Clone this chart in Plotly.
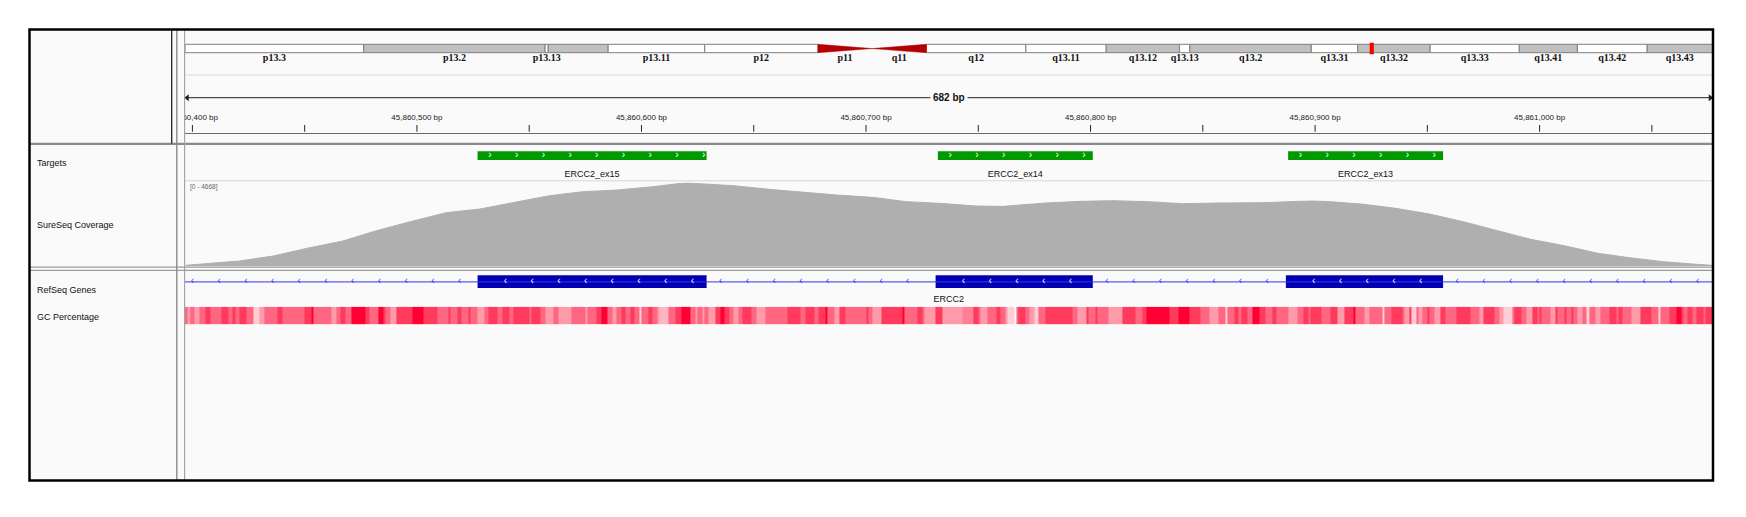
import numpy as np
import plotly.graph_objects as go

# page size and the default body margin of the html page
PAGE_W, PAGE_H, BODY = 1746, 517, 8
W, H = PAGE_W - 2 * BODY, PAGE_H - 2 * BODY

# view on chr19 (offsets are bp after 45,860,000)
BASE = 45860000
view_start, view_end = 396.7, 1077.0

# ideogram: chr19 cytobands (Mb)
band_names = ["p13.3", "p13.2", "p13.13", "p13.12", "p13.11", "p12", "p11", "q11", "q12",
              "q13.11", "q13.12", "q13.13", "q13.2", "q13.31", "q13.32", "q13.33",
              "q13.41", "q13.42", "q13.43"]
band_start = [0, 6.92, 13.94, 14.06, 16.38, 20.12, 24.5, 26.6, 28.7,
              32.55, 35.66, 38.5, 38.9, 43.6, 45.4, 48.2, 51.65, 53.9, 56.6]
band_end = [6.92, 13.94, 14.06, 16.38, 20.12, 24.5, 26.6, 28.7, 32.55,
            35.66, 38.5, 38.9, 43.6, 45.4, 48.2, 51.65, 53.9, 56.6, 59.13]
band_stain = ["gneg", "gpos", "gneg", "gpos", "gneg", "gneg", "acen", "acen", "gneg",
              "gneg", "gpos", "gneg", "gpos", "gneg", "gpos", "gneg", "gpos", "gneg", "gpos"]
band_shown = [True, True, True, False, True, True, True, True, True,
              True, True, True, True, True, True, True, True, True, True]
chrom_len = 59.13
locus_mb = 45.86

# ruler
tick_pos = [400, 450, 500, 550, 600, 650, 700, 750, 800, 850, 900, 950, 1000, 1050]
label_pos = [400, 500, 600, 700, 800, 900, 1000]
label_text = ["45,860,400 bp", "45,860,500 bp", "45,860,600 bp", "45,860,700 bp",
              "45,860,800 bp", "45,860,900 bp", "45,861,000 bp"]
span_text = "682 bp"

# targets
target_names = ["ERCC2_ex15", "ERCC2_ex14", "ERCC2_ex13"]
target_start = [527, 732, 888]
target_end = [629, 801, 957]

# coverage
cov_pos = [397, 405, 421, 436, 451, 467, 482, 497, 513, 528, 543, 559, 574, 589, 605, 620,
           626, 641, 657, 672, 687, 703, 718, 733, 749, 761, 780, 795, 810, 826, 841, 856,
           877, 892, 899, 907, 922, 936, 951, 966, 981, 996, 1011, 1026, 1040, 1055, 1070, 1077]
cov_depth = [37, 112, 280, 560, 990, 1400, 1980, 2483, 2988, 3193, 3548, 3940, 4164, 4257, 4444, 4668,
             4612, 4500, 4295, 4127, 3977, 3846, 3603, 3510, 3361, 3342, 3529, 3622, 3659, 3603, 3491, 3529,
             3548, 3622, 3641, 3603, 3454, 3230, 2913, 2483, 1979, 1494, 1139, 710, 467, 243, 93, 37]
cov_max = 4668

# RefSeq gene
gene_name = "ERCC2"
gene_start, gene_end = -5351, 13795
exon_start = [527, 731, 887]
exon_end = [629, 801, 957]

# GC percentage windows
gc_start = [396, 398, 399, 401, 403, 406, 408, 413, 416, 418, 419, 421, 424, 427, 430, 432, 438, 440,
            450, 453, 454, 462, 464, 466, 468, 471, 477, 479, 483, 485, 486, 488, 491, 498, 503, 509,
            514, 515, 518, 520, 523, 524, 527, 530, 532, 536, 538, 541, 543, 550, 551, 555, 557, 561,
            563, 569, 575, 576, 580, 582, 585, 587, 589, 591, 593, 595, 597, 599, 600, 603, 605, 607,
            608, 612, 615, 618, 622, 624, 625, 627, 628, 630, 633, 635, 637, 639, 641, 643, 645, 649,
            651, 655, 665, 671, 673, 677, 679, 682, 683, 686, 688, 691, 700, 701, 703, 707, 716, 717,
            723, 725, 726, 731, 734, 743, 748, 750, 751, 754, 758, 760, 762, 763, 766, 767, 768, 771,
            773, 775, 777, 780, 792, 794, 798, 799, 802, 803, 808, 814, 820, 823, 825, 835, 839, 844,
            849, 853, 857, 860, 861, 864, 866, 867, 870, 872, 875, 878, 881, 883, 888, 892, 895, 897,
            898, 903, 907, 910, 913, 917, 918, 922, 924, 930, 931, 934, 939, 940, 942, 943, 945, 946,
            948, 950, 951, 953, 956, 958, 963, 969, 973, 975, 980, 982, 984, 988, 989, 992, 994, 997,
            999, 1000, 1001, 1005, 1007, 1008, 1011, 1012, 1014, 1015, 1017, 1019, 1021, 1022, 1025, 1027,
            1031, 1034, 1035, 1037, 1041, 1045, 1050, 1053, 1054, 1058, 1061, 1063, 1064, 1066, 1068, 1070,
            1073, 1074]
gc_end = 1078
gc_pct = [55, 45, 55, 45, 55, 65, 55, 65, 55, 65, 55, 65, 55, 35, 45, 55, 65, 55,
          65, 75, 55, 45, 55, 65, 55, 75, 65, 55, 75, 65, 55, 45, 65, 75, 65, 55,
          65, 55, 65, 55, 65, 55, 45, 55, 65, 55, 65, 55, 65, 55, 65, 55, 45, 55,
          45, 55, 45, 55, 65, 75, 55, 45, 55, 65, 55, 65, 55, 35, 55, 65, 55, 45,
          40, 55, 65, 75, 55, 45, 55, 45, 55, 45, 65, 75, 65, 55, 45, 55, 65, 55,
          45, 55, 65, 55, 65, 55, 65, 75, 55, 45, 65, 55, 65, 55, 45, 65, 75, 55,
          65, 55, 45, 65, 45, 50, 65, 55, 45, 55, 65, 55, 45, 35, None, 55, 65, 55,
          45, 35, 55, 65, 55, 45, 65, 55, 65, 55, 45, 65, 55, 65, 75, 65, 75, 65,
          55, 45, 55, 35, 55, 65, 55, 65, 55, 75, 65, 55, 65, 55, 45, 55, 65, 55,
          65, 55, 65, 45, 65, 75, 55, 45, 55, 35, 55, 65, 55, 45, 65, 35, 55, 45,
          55, 65, 55, 45, 65, 55, 65, 55, 45, 65, 55, 45, 35, 55, 65, 55, 45, 65,
          55, 65, 55, 45, 65, 55, 65, 55, 65, 55, 45, 55, 35, 55, 45, 55,
          65, 55, 65, 55, 45, 65, 55, 35, 55, 65, 75, 65, 55, 65, 55, 65,
          55, 65]

track_names = ["Targets", "SureSeq Coverage", "RefSeq Genes", "GC Percentage"]
track_name_y = [163.3, 225, 290, 316.7]


def px(x):
    # page pixel -> paper fraction
    return (x - BODY) / W


def py(y):
    return 1 - (y - BODY) / H


FONT = "Liberation Sans, Arial, sans-serif"
x_dom = [px(185), px(1712.5)]


def g(v):
    return [BASE + a for a in v]


fig = go.Figure()

# ideogram bands
norm = [i for i, s in enumerate(band_stain) if s != "acen"]
fig.add_trace(go.Bar(
    orientation="h", xaxis="x2", yaxis="y",
    base=[band_start[i] for i in norm],
    x=[band_end[i] - band_start[i] for i in norm],
    y=[48.5] * len(norm), width=8.4,
    marker=dict(color=["#c0c0c0" if band_stain[i] == "gpos" else "#ffffff" for i in norm],
                line=dict(color="#7f7f7f", width=1)),
    hoverinfo="skip", showlegend=False))
for i, s in enumerate(band_stain):
    if s != "acen":
        continue
    a, b = band_start[i], band_end[i]
    if band_names[i].startswith("p"):
        xs, ys = [a, a, b, a], [44.3, 52.7, 48.6, 44.3]
    else:
        xs, ys = [a, b, b, a], [48.6, 44.3, 52.7, 48.6]
    fig.add_trace(go.Scatter(x=xs, y=ys, xaxis="x2", yaxis="y", mode="lines", fill="toself",
                             fillcolor="#b40000", line=dict(color="#b40000", width=0.5),
                             hoverinfo="skip", showlegend=False))
fig.add_trace(go.Bar(orientation="h", xaxis="x2", yaxis="y", base=[locus_mb], x=[0.16], y=[48.5],
                     width=11.5, marker=dict(color="#ff0000", line=dict(width=0)),
                     hoverinfo="skip", showlegend=False))
shown = [i for i in range(len(band_names)) if band_shown[i]]
fig.add_trace(go.Scatter(
    x=[(band_start[i] + band_end[i]) / 2 for i in shown], y=[58.6] * len(shown),
    xaxis="x2", yaxis="y", mode="text",
    text=["<b>%s</b>" % band_names[i] for i in shown],
    textfont=dict(family="Liberation Serif, Times New Roman, serif", size=10, color="#111"),
    hoverinfo="skip", showlegend=False, cliponaxis=False))

# ruler
tx, ty = [], []
for t in tick_pos:
    tx += [BASE + t, BASE + t, None]
    ty += [125, 131.7, None]
fig.add_trace(go.Scatter(x=tx, y=ty, xaxis="x", yaxis="y2", mode="lines",
                         line=dict(color="#222", width=1), hoverinfo="skip", showlegend=False))
fig.add_trace(go.Scatter(x=g(label_pos), y=[117.5] * len(label_pos), xaxis="x", yaxis="y2",
                         mode="text", text=label_text,
                         textfont=dict(family=FONT, size=8, color="#222"),
                         hoverinfo="skip", showlegend=False, cliponaxis=True))
fig.add_trace(go.Scatter(x=[BASE + view_start + 1, BASE + view_end - 1], y=[97.7, 97.7],
                         xaxis="x", yaxis="y2", mode="lines+markers",
                         line=dict(color="#222", width=1),
                         marker=dict(symbol=["triangle-left", "triangle-right"], size=6, color="#222"),
                         hoverinfo="skip", showlegend=False, cliponaxis=False))

# targets
fig.add_trace(go.Bar(orientation="h", xaxis="x", yaxis="y3", base=g(target_start),
                     x=[e - s for s, e in zip(target_start, target_end)], y=[155.6] * 3, width=8.7,
                     marker=dict(color="#009900", line=dict(width=0)),
                     hoverinfo="skip", showlegend=False))
chev = np.concatenate([np.arange(s + 5.5, e + 0.5, 11.9) for s, e in zip(target_start, target_end)])
fig.add_trace(go.Scatter(x=BASE + chev, y=[155.6] * len(chev), xaxis="x", yaxis="y3", mode="text",
                         text=["›"] * len(chev), textfont=dict(family=FONT, size=10, color="white"),
                         hoverinfo="skip", showlegend=False))
fig.add_trace(go.Scatter(x=[BASE + (s + e) / 2 for s, e in zip(target_start, target_end)],
                         y=[174.7] * 3, xaxis="x", yaxis="y3", mode="text", text=target_names,
                         textfont=dict(family=FONT, size=9, color="#111"),
                         hoverinfo="skip", showlegend=False))

# coverage
fig.add_trace(go.Scatter(x=g(cov_pos), y=cov_depth, xaxis="x", yaxis="y4", mode="lines",
                         fill="tozeroy", fillcolor="#afafaf", line=dict(color="#afafaf", width=1),
                         hoverinfo="skip", showlegend=False))

# gene
fig.add_trace(go.Scatter(x=[BASE + gene_start, BASE + gene_end], y=[281.9, 281.9], xaxis="x", yaxis="y5",
                         mode="lines", line=dict(color="#3535f0", width=1),
                         hoverinfo="skip", showlegend=False))
fig.add_trace(go.Bar(orientation="h", xaxis="x", yaxis="y5", base=g(exon_start),
                     x=[e - s for s, e in zip(exon_start, exon_end)], y=[281.6] * 3, width=12.7,
                     marker=dict(color="#0000b2", line=dict(width=0)),
                     hoverinfo="skip", showlegend=False))
echev = np.concatenate([np.arange(s + 12.4, e - 2, 11.9) for s, e in zip(exon_start, exon_end)])
fig.add_trace(go.Scatter(x=BASE + echev, y=[281.6] * len(echev), xaxis="x", yaxis="y5", mode="text",
                         text=["‹"] * len(echev), textfont=dict(family=FONT, size=10, color="white"),
                         hoverinfo="skip", showlegend=False))
edges_a = [400 - 6.3] + exon_end
edges_b = exon_start + [view_end + 6]
ichev = np.concatenate([np.arange(a + 6.3, b - 6, 11.9) for a, b in zip(edges_a, edges_b)])
fig.add_trace(go.Scatter(x=BASE + ichev, y=[281.4] * len(ichev), xaxis="x", yaxis="y5", mode="text",
                         text=["‹"] * len(ichev), textfont=dict(family=FONT, size=10, color="#3535f0"),
                         hoverinfo="skip", showlegend=False))
fig.add_trace(go.Scatter(x=[BASE + (view_start + view_end) / 2], y=[300.2], xaxis="x", yaxis="y5",
                         mode="text", text=[gene_name], textfont=dict(family=FONT, size=9, color="#111"),
                         hoverinfo="skip", showlegend=False))

# GC percentage
fig.add_trace(go.Heatmap(x=g(gc_start) + [BASE + gc_end], y=[0], z=[gc_pct], xaxis="x", yaxis="y6",
                         zmin=35, zmax=75, showscale=False, hoverinfo="skip",
                         colorscale=[[0, "#ffcdd6"], [0.25, "#ff9aab"], [0.5, "#ff6681"],
                                     [0.75, "#ff3a5c"], [1, "#ff0033"]]))

hide = dict(visible=False, fixedrange=True)
fig.update_layout(
    width=W, height=H, margin=dict(l=0, r=0, t=0, b=0),
    paper_bgcolor="white", plot_bgcolor="rgba(0,0,0,0)",
    barmode="overlay", hovermode=False, showlegend=False,
    xaxis=dict(domain=x_dom, range=[BASE + view_start, BASE + view_end], anchor="y4", **hide),
    xaxis2=dict(domain=x_dom, range=[0, chrom_len], anchor="y", **hide),
    yaxis=dict(domain=[py(64), py(41)], range=[64, 41], anchor="x2", **hide),
    yaxis2=dict(domain=[py(143.3), py(75)], range=[143.3, 75], anchor="x", **hide),
    yaxis3=dict(domain=[py(180), py(147)], range=[180, 147], anchor="x", **hide),
    yaxis4=dict(domain=[py(266), py(182.7)], range=[0, cov_max], anchor="x", **hide),
    yaxis5=dict(domain=[py(305), py(270.5)], range=[305, 270.5], anchor="x", **hide),
    yaxis6=dict(domain=[py(324.3), py(306.7)], range=[-0.5, 0.5], anchor="x", **hide),
)

shapes = []


def rect(x0, y0, x1, y1, **kw):
    shapes.append(dict(type="rect", xref="paper", yref="paper",
                       x0=px(x0), x1=px(x1), y0=py(y1), y1=py(y0), **kw))


def line(x0, y0, x1, y1, color, width):
    shapes.append(dict(type="line", xref="paper", yref="paper", x0=px(x0), x1=px(x1),
                       y0=py(y0), y1=py(y1), line=dict(color=color, width=width)))


rect(29.5, 29.5, 1713, 480.5, fillcolor="#fafafa", line=dict(width=0), layer="below")
line(185, 75, 1712.5, 75, "#dadada", 1)
line(185, 180.8, 1712.5, 180.8, "#d6d6d6", 1)
line(185, 133.5, 1712.5, 133.5, "#6a6a6a", 1)
line(29.5, 143.8, 1713, 143.8, "#8a8a8a", 2.2)
line(29.5, 267.2, 1713, 267.2, "#9a9a9a", 1.3)
line(29.5, 270.4, 1713, 270.4, "#9a9a9a", 1.3)
line(171.7, 29.5, 171.7, 143.5, "#222", 1.3)
line(176.8, 29.5, 176.8, 480.5, "#8a8a8a", 1.4)
line(184.6, 29.5, 184.6, 480.5, "#a0a0a0", 1.1)
rect(29.5, 29.5, 1713, 480.5, line=dict(color="#000", width=2.5))
fig.update_layout(shapes=shapes)

ann = []
for name, yy in zip(track_names, track_name_y):
    ann.append(dict(x=px(35), y=py(yy), xref="paper", yref="paper", text=name, showarrow=False,
                    xanchor="left", yanchor="middle", font=dict(family=FONT, size=9, color="#111")))
ann.append(dict(x=px(188), y=py(187.3), xref="paper", yref="paper", text="[0 - %d]" % cov_max,
                showarrow=False, xanchor="left", yanchor="middle",
                font=dict(family=FONT, size=6.5, color="#666")))
ann.append(dict(x=BASE + (view_start + view_end) / 2, y=py(97.7), xref="x", yref="paper",
                text="<b>%s</b>" % span_text, showarrow=False, xanchor="center", yanchor="middle",
                bgcolor="#fafafa", borderpad=2, font=dict(family=FONT, size=10, color="#111")))
fig.update_layout(annotations=ann)

fig.write_html("out.html", config={"displayModeBar": False})
